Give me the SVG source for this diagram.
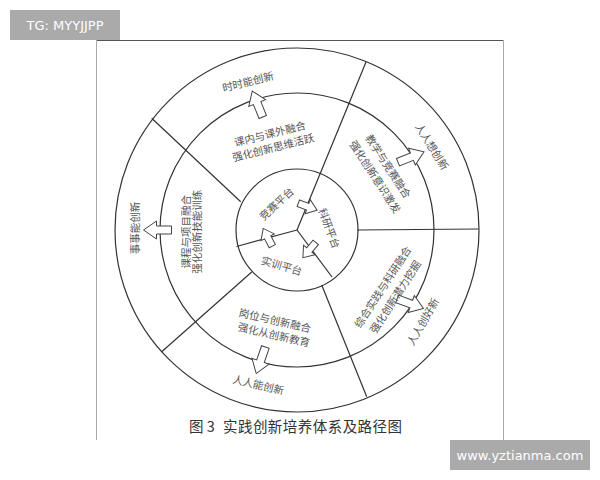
<svg xmlns="http://www.w3.org/2000/svg" xmlns:xlink="http://www.w3.org/1999/xlink" width="600" height="480" viewBox="0 0 600 480">
<style>
.ln{fill:none;stroke:#333;stroke-width:1.2}
.arr{fill:#fff;stroke:#444;stroke-width:1}
.t{font-family:"Noto Sans CJK SC","Noto Sans CJK JP",sans-serif;font-size:10.5px;fill:#555;text-anchor:middle}
.cap{font-family:"Noto Sans CJK SC","Noto Sans CJK JP",sans-serif;font-size:14.5px;fill:#333}
.wm{font-family:"DejaVu Sans","Liberation Sans",sans-serif;font-size:13px;fill:#fff}
</style>
<defs>
<path id="bigA" d="M-14,-4 L1,-4 L1,-9 L14,0 L1,9 L1,4 L-14,4 Z"/>
<path id="smA" d="M-10,-3.5 L0,-3.5 L0,-7.5 L10,0 L0,7.5 L0,3.5 L-10,3.5 Z"/>
</defs>
<rect width="600" height="480" fill="#fff"/>
<g id="frame">
<line x1="96.5" y1="40.5" x2="503.5" y2="40.5" stroke="#555" stroke-width="1"/>
<line x1="96.5" y1="40.5" x2="96.5" y2="440" stroke="#aaa" stroke-width="1"/>
<line x1="503.5" y1="40.5" x2="503.5" y2="440" stroke="#aaa" stroke-width="1"/>
</g>
<g id="connectors">
<circle class="ln" cx="297" cy="230" r="182"/>
<circle class="ln" cx="297" cy="230" r="137"/>
<circle class="ln" cx="297" cy="230" r="61"/>
<line class="ln" x1="240.7" y1="201.7" x2="151.7" y2="118.3"/>
<line class="ln" x1="297" y1="230" x2="366" y2="62"/>
<line class="ln" x1="357" y1="230" x2="478.5" y2="229"/>
<line class="ln" x1="321.7" y1="285" x2="366.7" y2="396.7"/>
<line class="ln" x1="251.7" y1="272" x2="161.7" y2="351.7"/>
<line class="ln" x1="297" y1="230" x2="332" y2="277"/>
<line class="ln" x1="297" y1="230" x2="236.5" y2="246.5"/>
<use href="#bigA" class="arr" transform="translate(257.5,104) rotate(-112)"/>
<use href="#bigA" class="arr" transform="translate(411,157) rotate(-22)"/>
<use href="#bigA" class="arr" transform="translate(410.3,303.7) rotate(20)"/>
<use href="#bigA" class="arr" transform="translate(260.8,360.3) rotate(109)"/>
<use href="#bigA" class="arr" transform="translate(157.5,230) rotate(180)"/>
<use href="#smA" class="arr" transform="translate(307.7,206.7) rotate(20)"/>
<use href="#smA" class="arr" transform="translate(267.7,237.3) rotate(-117)"/>
<use href="#smA" class="arr" transform="translate(309.3,250) rotate(130)"/>
</g>
<g id="inner">
<text class="t" transform="translate(276.7,204) rotate(-43)" dy="0.35em">竞赛平台</text>
<text class="t" transform="translate(329,228.3) rotate(69)" dy="0.35em">科研平台</text>
<text class="t" transform="translate(281.7,266) rotate(16)" dy="0.35em">实训平台</text>
</g>
<g id="middle-top">
<text class="t" transform="translate(270,134) rotate(-14)" dy="0.35em">课内与课外融合</text>
<text class="t" transform="translate(273.3,147.8) rotate(-14)" dy="0.35em">强化创新思维活跃</text>
</g>
<g id="middle-upper-right">
<text class="t" transform="translate(388,166.5) rotate(57)" dy="0.35em">教学与竞赛融合</text>
<text class="t" transform="translate(375,177) rotate(57)" dy="0.35em">强化创新意识激发</text>
</g>
<g id="middle-lower-right">
<text class="t" transform="translate(383,287) rotate(-57)" dy="0.35em">综合实践与科研融合</text>
<text class="t" transform="translate(395.5,297) rotate(-57)" dy="0.35em">强化创新潜力挖掘</text>
</g>
<g id="middle-bottom">
<text class="t" transform="translate(275,320.7) rotate(13)" dy="0.35em">岗位与创新融合</text>
<text class="t" transform="translate(274,335) rotate(13)" dy="0.35em">强化从创新教育</text>
</g>
<g id="middle-left">
<text class="t" transform="translate(186,231.7) rotate(-90)" dy="0.35em">课程与项目融合</text>
<text class="t" transform="translate(197.5,231.7) rotate(-90)" dy="0.35em">强化创新技能训练</text>
</g>
<g id="outer-top"><text class="t" transform="translate(248,82) rotate(-14)" dy="0.35em">时时能创新</text></g>
<g id="outer-upper-right"><text class="t" transform="translate(431.7,146.7) rotate(58)" dy="0.35em">人人想创新</text></g>
<g id="outer-lower-right"><text class="t" transform="translate(423.3,321.7) rotate(-60)" dy="0.35em">人人创好新</text></g>
<g id="outer-bottom"><text class="t" transform="translate(258.3,385) rotate(13)" dy="0.35em">人人能创新</text></g>
<g id="outer-left"><text class="t" transform="translate(135,228) rotate(-90)" dy="0.35em">事事能创新</text></g>
<g id="caption">
<text class="cap" x="189" y="432">图 3</text>
<text class="cap" x="223" y="432" textLength="179" lengthAdjust="spacing">实践创新培养体系及路径图</text>
</g>
<g id="watermark-top">
<rect x="10" y="10" width="110" height="30" fill="#aaa"/>
<text class="wm" x="65" y="30" text-anchor="middle">TG: MYYJJPP</text>
</g>
<g id="watermark-bottom">
<rect x="450" y="440" width="140" height="30" fill="#aaa"/>
<text class="wm" x="520" y="460" text-anchor="middle">www.yztianma.com</text>
</g>
</svg>
